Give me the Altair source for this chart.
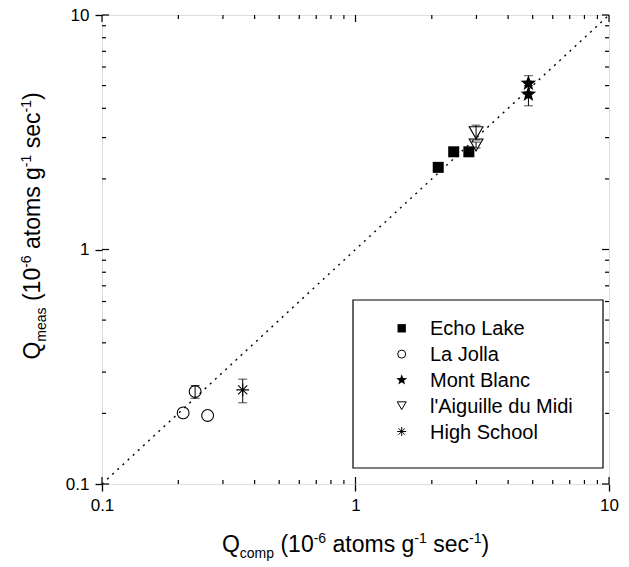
import math
import altair as alt
import pandas as pd

# ---------------- data ----------------
series_names = ["Echo Lake", "La Jolla", "Mont Blanc", "l'Aiguille du Midi", "High School"]

echo_x = [2.12, 2.44, 2.80]
echo_y = [2.24, 2.61, 2.61]

jolla_x = [0.209, 0.233, 0.261]
jolla_y = [0.201, 0.248, 0.196]

blanc_x = [4.81, 4.81]
blanc_y = [5.11, 4.59]

midi_x = [2.99, 2.99]
midi_y = [3.15, 2.79]

school_x = [0.359]
school_y = [0.252]

err_x = [4.81, 4.81, 2.99, 2.99, 0.233, 0.359]
err_lo = [4.70, 4.10, 2.93, 2.71, 0.232, 0.222]
err_hi = [5.51, 5.00, 3.39, 2.87, 0.263, 0.280]

diag_x = [0.1, 10]
diag_y = [0.1, 10]

major_ticks = [0.1, 1, 10]
minor_ticks = [0.2, 0.3, 0.4, 0.5, 0.6, 0.7, 0.8, 0.9, 2, 3, 4, 5, 6, 7, 8, 9]

x_title_parts = [("Q", "n"), ("comp", "sub"), (" (10", "n"), ("-6", "sup"),
                 (" atoms g", "n"), ("-1", "sup"), (" sec", "n"), ("-1", "sup"), (")", "n")]
y_title_parts = [("Q", "n"), ("meas", "sub"), (" (10", "n"), ("-6", "sup"),
                 (" atoms g", "n"), ("-1", "sup"), (" sec", "n"), ("-1", "sup"), (")", "n")]

# ---------------- layout ----------------
W, H = 507, 469
FONT = "Liberation Sans"
BIG, SMALL = 23, 14

xs = alt.Scale(type="log", domain=[0.1, 10], nice=False)
ys = alt.Scale(type="log", domain=[0.1, 10], nice=False)

# Arial / Helvetica advance widths (per 1000 em)
AW = {" ": 278, "(": 333, ")": 333, "-": 333, "Q": 778, "a": 556, "c": 500, "e": 556,
      "g": 556, "m": 833, "o": 556, "p": 556, "s": 500, "t": 278}
for d in "0123456789":
    AW[d] = 556


def text_w(s, size):
    return sum(AW.get(ch, 556) for ch in s) * size / 1000.0


def layout_parts(parts):
    rows, pos = [], 0.0
    for txt, kind in parts:
        size = BIG if kind == "n" else SMALL
        off = 0 if kind == "n" else (6 if kind == "sub" else -9)
        stripped = txt.lstrip(" ")
        lead = text_w(txt[: len(txt) - len(stripped)], size)
        rows.append({"t": stripped, "pos": pos + lead, "size": size, "off": off})
        pos += text_w(txt, size)
    return rows, pos


# x title pieces (horizontal)
xr, xtot = layout_parts(x_title_parts)
x_center, x_base = W / 2, 537
xt_df = pd.DataFrame([{"t": r["t"], "px": x_center - xtot / 2 + r["pos"],
                       "py": x_base + r["off"], "size": r["size"]} for r in xr])

# y title pieces (rotated; subscript shifts right, superscript left)
yr, ytot = layout_parts(y_title_parts)
y_center, y_base = 211, -62
yt_df = pd.DataFrame([{"t": r["t"], "py": y_center + ytot / 2 - r["pos"],
                       "px": y_base + r["off"], "size": r["size"]} for r in yr])

# star & asterisk paths
pts = []
for k in range(10):
    r = 1.0 if k % 2 == 0 else 0.42
    a = -math.pi / 2 + k * math.pi / 5
    pts.append(f"{r * math.cos(a):.3f},{r * math.sin(a):.3f}")
STAR = "M" + "L".join(pts) + "Z"
AST = "M0,-1L0,1M-1,0L1,0M-0.72,-0.72L0.72,0.72M-0.72,0.72L0.72,-0.72"

# ---------------- layers ----------------
X = lambda f: alt.X(f, type="quantitative", scale=xs, title=None)
Y = lambda f: alt.Y(f, type="quantitative", scale=ys, title=None)

axis_kw = dict(values=major_ticks, format="~g", grid=False, domain=False,
               tickSize=7, tickColor="black", tickWidth=1.3,
               labelFontSize=17, labelFont=FONT, labelColor="black",
               labelPadding=6, labelOverlap=False)

base_axes = alt.Chart(pd.DataFrame({"x": diag_x, "y": diag_y})).mark_line(
    color="black", strokeDash=[2, 5], strokeWidth=1.4
).encode(
    x=alt.X("x:Q", scale=xs, title=None, axis=alt.Axis(labelFlush=False, **axis_kw)),
    y=alt.Y("y:Q", scale=ys, title=None, axis=alt.Axis(**axis_kw)),
)

err_df = pd.DataFrame({"x": err_x, "lo": err_lo, "hi": err_hi})
err_rule = alt.Chart(err_df).mark_rule(color="black", strokeWidth=1).encode(
    x=X("x"), y=Y("lo"), y2="hi")
cap_lo = alt.Chart(err_df).mark_tick(orient="horizontal", size=9, thickness=1, color="black").encode(
    x=X("x"), y=Y("lo"))
cap_hi = alt.Chart(err_df).mark_tick(orient="horizontal", size=9, thickness=1, color="black").encode(
    x=X("x"), y=Y("hi"))


def pts_layer(xv, yv, shape, size, filled):
    kw = dict(shape=shape, size=size, color="black", opacity=1)
    if filled:
        kw.update(filled=True)
    else:
        kw.update(filled=False, strokeWidth=1.1)
    return alt.Chart(pd.DataFrame({"x": xv, "y": yv})).mark_point(**kw).encode(x=X("x"), y=Y("y"))


p_echo = pts_layer(echo_x, echo_y, "square", 121, True)
p_jolla = pts_layer(jolla_x, jolla_y, "circle", 140, False)
p_blanc = pts_layer(blanc_x, blanc_y, STAR, 270, True)
p_midi = pts_layer(midi_x, midi_y, "triangle-down", 190, False)
p_school = pts_layer(school_x, school_y, AST, 160, False)

# ticks (minor inward, major inward) on all four sides
tick_layers = []
for vals, ln in ((minor_ticks, 4), (major_ticks, 7)):
    tdf = pd.DataFrame({"v": vals})
    tc = alt.Chart(tdf).mark_rule(color="black", strokeWidth=1.2)
    tick_layers += [
        tc.encode(x=X("v"), y=alt.value(H), y2=alt.value(H - ln)),
        tc.encode(x=X("v"), y=alt.value(0), y2=alt.value(ln)),
        tc.encode(y=Y("v"), x=alt.value(0), x2=alt.value(ln)),
        tc.encode(y=Y("v"), x=alt.value(W), x2=alt.value(W - ln)),
    ]

# legend
leg_box = alt.Chart(pd.DataFrame({"a": [0]})).mark_rect(
    fill="white", stroke="black", strokeWidth=1.2
).encode(x=alt.value(251), x2=alt.value(501), y=alt.value(285), y2=alt.value(453))

leg_shapes = [("square", 70, True), ("circle", 64, False), (STAR, 130, True),
              ("triangle-down", 80, False), (AST, 80, False)]
leg_layers = []
for i, name in enumerate(series_names):
    shp, sz, fl = leg_shapes[i]
    cy = 313.3 + 25.8 * i
    kw = dict(shape=shp, size=sz, color="black", opacity=1, filled=fl)
    if not fl:
        kw["strokeWidth"] = 1
    one = alt.Chart(pd.DataFrame({"label": [name]}))
    leg_layers.append(one.mark_point(**kw).encode(x=alt.value(299.7), y=alt.value(cy)))
    leg_layers.append(one.mark_text(align="left", baseline="alphabetic", fontSize=20,
                                    font=FONT, color="black").encode(
        x=alt.value(328), y=alt.value(cy + 7), text="label:N"))

# axis titles
xt = alt.Chart(xt_df).mark_text(align="left", baseline="alphabetic", font=FONT, color="black").encode(
    x=alt.X("px:Q", scale=None, axis=None), y=alt.Y("py:Q", scale=None, axis=None),
    text="t:N", size=alt.Size("size:Q", scale=None, legend=None))
yt = alt.Chart(yt_df).mark_text(align="left", baseline="alphabetic", font=FONT, color="black",
                                angle=270).encode(
    x=alt.X("px:Q", scale=None, axis=None), y=alt.Y("py:Q", scale=None, axis=None),
    text="t:N", size=alt.Size("size:Q", scale=None, legend=None))

chart = alt.layer(
    base_axes, *tick_layers, err_rule, cap_lo, cap_hi,
    p_echo, p_jolla, p_blanc, p_midi, p_school,
    leg_box, *leg_layers, xt, yt
).properties(
    width=W, height=H, autosize="none",
    padding={"left": 94, "top": 7, "right": 12, "bottom": 83},
).configure_view(stroke="black", strokeWidth=1.3).configure(background="white")

chart.save("out.html", embed_options={"renderer": "svg", "actions": False})
